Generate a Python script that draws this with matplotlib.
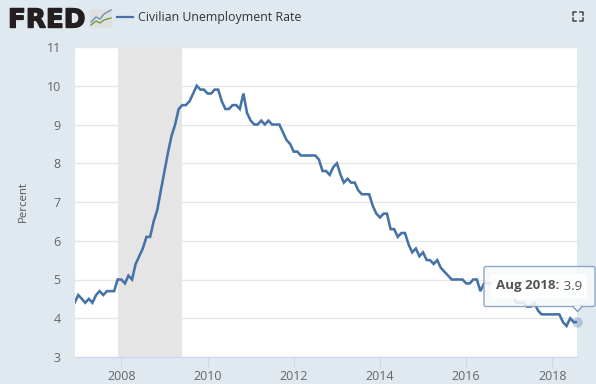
import pandas as pd
import matplotlib
matplotlib.use('Agg')
import matplotlib.pyplot as plt
import matplotlib.dates as mdates
import matplotlib.patheffects as pe
from matplotlib.patches import FancyBboxPatch, Polygon, Rectangle

# monthly rate, Dec 2006 - Aug 2018
rate = [4.4,
        4.6, 4.5, 4.4, 4.5, 4.4, 4.6, 4.7, 4.6, 4.7, 4.7, 4.7, 5.0,
        5.0, 4.9, 5.1, 5.0, 5.4, 5.6, 5.8, 6.1, 6.1, 6.5, 6.8, 7.3,
        7.8, 8.3, 8.7, 9.0, 9.4, 9.5, 9.5, 9.6, 9.8, 10.0, 9.9, 9.9,
        9.8, 9.8, 9.9, 9.9, 9.6, 9.4, 9.4, 9.5, 9.5, 9.4, 9.8, 9.3,
        9.1, 9.0, 9.0, 9.1, 9.0, 9.1, 9.0, 9.0, 9.0, 8.8, 8.6, 8.5,
        8.3, 8.3, 8.2, 8.2, 8.2, 8.2, 8.2, 8.1, 7.8, 7.8, 7.7, 7.9,
        8.0, 7.7, 7.5, 7.6, 7.5, 7.5, 7.3, 7.2, 7.2, 7.2, 6.9, 6.7,
        6.6, 6.7, 6.7, 6.3, 6.3, 6.1, 6.2, 6.2, 5.9, 5.7, 5.8, 5.6,
        5.7, 5.5, 5.5, 5.4, 5.5, 5.3, 5.2, 5.1, 5.0, 5.0, 5.0, 5.0,
        4.9, 4.9, 5.0, 5.0, 4.7, 4.9, 4.9, 4.9, 5.0, 4.9, 4.7, 4.7,
        4.7, 4.6, 4.4, 4.4, 4.4, 4.3, 4.3, 4.4, 4.2, 4.1, 4.1, 4.1,
        4.1, 4.1, 4.1, 3.9, 3.8, 4.0, 3.9, 3.9]
dates = pd.date_range('2006-12-01', periods=len(rate), freq='MS')
recession = ['2007-12-01', '2009-06-01']
y_ticks = [3, 4, 5, 6, 7, 8, 9, 10, 11]
x_years = [2008, 2010, 2012, 2014, 2016, 2018]
series_name = 'Civilian Unemployment Rate'

W, H = 596, 384
BG = '#e1e9f0'
BLUE = '#4572a7'
plt.rcParams['font.family'] = ['Open Sans', 'DejaVu Sans']

fig = plt.figure(figsize=(W / 100, H / 100), dpi=100, facecolor=BG)
ax = fig.add_axes([74.6 / W, 1 - 357 / H, (577.4 - 74.6) / W, (357 - 47) / H])

ax.axvspan(pd.Timestamp(recession[0]), pd.Timestamp(recession[1]), color='#e5e5e5', lw=0, zorder=2)
ax.plot(dates, rate, color=BLUE, lw=1.85, zorder=3, solid_joinstyle='miter')
ax.plot(dates[-1], rate[-1], 'o', ms=7.5, color=BLUE, alpha=0.3, mew=0, clip_on=False, zorder=6)

ax.set_xlim(pd.Timestamp('2006-12-01'), dates[-1])
ax.set_ylim(3, 11)
ax.set_yticks(y_ticks)
ax.set_xticks([pd.Timestamp(f'{y}-01-01') for y in x_years])
ax.xaxis.set_major_formatter(mdates.DateFormatter('%Y'))
ax.grid(axis='y', color='#e6e6e6', lw=1)
ax.set_axisbelow(True)
for s in ['top', 'left', 'right']:
    ax.spines[s].set_visible(False)
ax.spines['bottom'].set_color('#ccd6eb')
ax.spines['bottom'].set_linewidth(0.8)
ax.tick_params(axis='y', length=0, pad=10, labelsize=9, labelcolor='#666666')
ax.tick_params(axis='x', length=7, width=0.8, color='#ccd6eb', pad=2.5, labelsize=9, labelcolor='#666666')
ax.set_ylabel('Percent', fontsize=8.2, color='#555555', labelpad=13)

# overlay in pixel coordinates for the logo, legend and tooltip
ov = fig.add_axes([0, 0, 1, 1], facecolor='none')
ov.set_xlim(0, W)
ov.set_ylim(H, 0)
ov.axis('off')

ov.text(8, 27.5, 'FRED', family='DejaVu Sans', weight='bold', fontsize=18.8, color='#231f20', va='baseline',
        path_effects=[pe.withStroke(linewidth=1.0, foreground='#231f20')])
ov.add_patch(Rectangle((90, 9), 22, 19, fc='#dfe1e1', ec='none'))
ov.plot([91, 96, 100, 104, 111], [22, 17, 19, 14, 10], color='#6f90b4', lw=1.0)
ov.plot([91, 96, 100, 104, 111], [25, 21, 23, 20, 18], color='#6d9e3f', lw=1.0)

ov.plot([117, 133], [17, 17], color=BLUE, lw=1.6)
ov.text(138, 17.5, series_name, fontsize=8.9, color='#333333', va='center')

# fullscreen icon
for cx, cy, dx, dy in [(573, 11.5, 1, 1), (582.5, 11.5, -1, 1), (573, 20.5, 1, -1), (582.5, 20.5, -1, -1)]:
    ov.plot([cx, cx, cx + 3 * dx], [cy + 3 * dy, cy, cy], color='#444444', lw=1.1)

# tooltip
ov.add_patch(FancyBboxPatch((484, 266.5), 111, 40, boxstyle='round,pad=0,rounding_size=2',
                            fc='#f7f9fb', ec='#7f9dc0', lw=1.0, alpha=0.88, zorder=7))
ov.add_patch(Polygon([[573, 306], [577.5, 311.5], [582, 306]], closed=True, fc='#f7f9fb', ec='none', alpha=0.95, zorder=8))
ov.plot([573, 577.5, 582], [306.5, 311.5, 306.5], color='#7f9dc0', lw=1.0, zorder=8)
ov.add_patch(Rectangle((491, 274), 96, 25, fc='white', ec='none', alpha=0.85, zorder=8))
label_date = dates[-1].strftime('%b %Y')
t = ov.text(496.5, 286, f'{label_date}:', fontsize=9.6, weight='bold', color='#555555', va='center', zorder=9)
ov.annotate(f' {rate[-1]}', xy=(1, 0.5), xycoords=t, va='center', fontsize=9.6, color='#555555', zorder=9)

fig.savefig('out.png', dpi=100, facecolor=BG)
